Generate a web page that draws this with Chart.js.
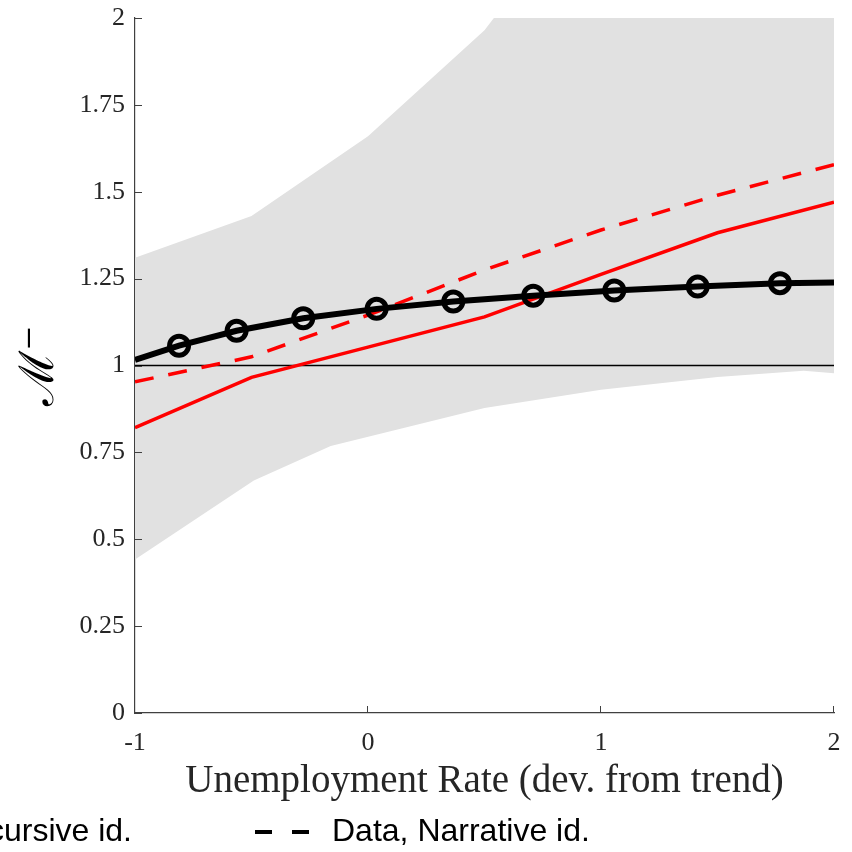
<!DOCTYPE html>
<html lang="en">
<head>
  <meta charset="UTF-8" />
  <title>Multiplier vs unemployment</title>
  <script src="https://cdn.jsdelivr.net/npm/chart.js"></script>
  <style>
    body {
      margin: 0;
      background: #fff;
      overflow: hidden;
    }
    canvas {
      display: block;
    }
  </style>
</head>
<body>
  <canvas id="chart" width="852" height="852"></canvas>

  <script>
    // values
    const bandUpperX = [-1, -0.5, 0, 0.5, 1, 1.5, 2];
    const bandUpperY = [1.31, 1.43, 1.66, 1.965, 2.4, 2.7, 2.9];
    const bandLowerX = [-1, -0.49, -0.16, 0.5, 1, 1.5, 1.87, 2];
    const bandLowerY = [0.442, 0.669, 0.768, 0.878, 0.93, 0.967, 0.985, 0.978];

    const recursiveX = [-1, -0.5, 0, 0.5, 1, 1.5, 2];
    const recursiveY = [0.821, 0.966, 1.053, 1.14, 1.262, 1.382, 1.47];
    const narrativeX = [-1, -0.5, 0, 0.5, 1, 1.5, 2];
    const narrativeY = [0.953, 1.025, 1.145, 1.275, 1.39, 1.49, 1.578];

    const modelX = [-1, -0.811, -0.564, -0.278, 0.037, 0.366, 0.709, 1.057, 1.415, 1.768, 2];
    const modelY = [1.016, 1.057, 1.100, 1.136, 1.163, 1.184, 1.201, 1.216, 1.227, 1.237, 1.239];

    const refX = [-1, 2];
    const refY = [1, 1];

    const xTicks = [-1, 0, 1, 2];
    const xTickLabels = ['-1', '0', '1', '2'];
    const yTicks = [0, 0.25, 0.5, 0.75, 1, 1.25, 1.5, 1.75, 2];
    const yTickLabels = ['0', '0.25', '0.5', '0.75', '1', '1.25', '1.5', '1.75', '2'];

    const xTitle = 'Unemployment Rate (dev. from trend)';
    const yTitle = 'ℳ⁻';
    const legendLabels = ['Data, Recursive id.', 'Data, Narrative id.'];

    const pts = (xs, ys) => xs.map((x, i) => ({ x, y: ys[i] }));
    const serif = "'Liberation Serif', 'DejaVu Serif', serif";
    const axisColor = '#404040';

    // MATLAB-style ticks that point into the plot
    const innerTicks = {
      id: 'innerTicks',
      afterDatasetsDraw(chart) {
        const { ctx, chartArea, scales } = chart;
        ctx.save();
        ctx.strokeStyle = axisColor;
        ctx.lineWidth = 1;
        ctx.beginPath();
        yTicks.forEach(v => {
          const y = Math.round(scales.y.getPixelForValue(v)) + 0.5;
          ctx.moveTo(chartArea.left, y);
          ctx.lineTo(chartArea.left + 7, y);
        });
        xTicks.forEach(v => {
          const x = Math.round(scales.x.getPixelForValue(v)) - 0.5;
          ctx.moveTo(x, chartArea.bottom);
          ctx.lineTo(x, chartArea.bottom - 7);
        });
        ctx.stroke();
        ctx.restore();
      }
    };

    // legend row under the axis title (cut by the left edge as in the figure)
    const bottomLegend = {
      id: 'bottomLegend',
      afterDraw(chart) {
        const ctx = chart.ctx;
        const y = 832;
        ctx.save();
        ctx.font = "32px 'Liberation Sans', Arial, sans-serif";
        ctx.fillStyle = '#000';
        ctx.textBaseline = 'middle';
        ctx.textAlign = 'right';
        ctx.fillText(legendLabels[0], 132, y);
        ctx.strokeStyle = '#000';
        ctx.lineWidth = 4;
        ctx.setLineDash([17, 20]);
        ctx.beginPath();
        ctx.moveTo(255, y);
        ctx.lineTo(309, y);
        ctx.stroke();
        ctx.setLineDash([]);
        ctx.textAlign = 'left';
        ctx.fillText(legendLabels[1], 332, y);
        ctx.restore();
      }
    };

    const ctx = document.getElementById('chart').getContext('2d');
    new Chart(ctx, {
      type: 'line',
      data: {
        datasets: [
          {
            label: 'band upper',
            data: pts(bandUpperX, bandUpperY),
            borderWidth: 0,
            pointRadius: 0,
            backgroundColor: '#e1e1e1',
            fill: '+1',
            order: 10
          },
          {
            label: 'band lower',
            data: pts(bandLowerX, bandLowerY),
            borderWidth: 0,
            pointRadius: 0,
            fill: false,
            order: 11
          },
          {
            label: 'reference',
            data: pts(refX, refY),
            borderColor: '#000',
            borderWidth: 1.6,
            pointRadius: 0,
            order: 5
          },
          {
            label: legendLabels[0],
            data: pts(recursiveX, recursiveY),
            borderColor: '#ff0000',
            borderWidth: 3.5,
            pointRadius: 0,
            order: 3
          },
          {
            label: legendLabels[1],
            data: pts(narrativeX, narrativeY),
            borderColor: '#ff0000',
            borderWidth: 3.5,
            borderDash: [19, 15],
            pointRadius: 0,
            order: 2
          },
          {
            label: 'model',
            data: pts(modelX, modelY),
            borderColor: '#000',
            borderWidth: 6,
            pointStyle: 'circle',
            pointRadius: c => (c.dataIndex === 0 || c.dataIndex === modelX.length - 1) ? 0 : 9.5,
            pointBorderWidth: 5,
            pointBorderColor: '#000',
            pointBackgroundColor: 'rgba(0,0,0,0)',
            order: 1
          }
        ]
      },
      options: {
        responsive: false,
        devicePixelRatio: 1,
        animation: false,
        events: [],
        layout: { padding: { top: 18, right: 18, left: 0, bottom: 0 } },
        plugins: {
          legend: { display: false },
          tooltip: { enabled: false }
        },
        elements: { line: { tension: 0, borderCapStyle: 'butt' } },
        scales: {
          x: {
            type: 'linear',
            min: -1,
            max: 2,
            afterFit: s => {
              s.height = 139;
              s.paddingLeft = 0;
              s.paddingRight = 0;
            },
            afterBuildTicks: s => { s.ticks = xTicks.map(v => ({ value: v })); },
            ticks: {
              callback: (v) => xTickLabels[xTicks.indexOf(v)],
              font: { family: serif, size: 26 },
              color: '#262626',
              padding: 15,
              maxRotation: 0
            },
            grid: { display: true, drawOnChartArea: false, drawTicks: false },
            border: { display: true, color: axisColor, width: 1.2 },
            title: {
              display: true,
              text: xTitle,
              font: { family: serif, size: 39 },
              color: '#262626',
              padding: { top: 0, bottom: 47 }
            }
          },
          y: {
            type: 'linear',
            min: 0,
            max: 2,
            afterFit: s => {
              s.width = 135;
              s.paddingTop = 0;
              s.paddingBottom = 0;
            },
            afterBuildTicks: s => { s.ticks = yTicks.map(v => ({ value: v })); },
            ticks: {
              callback: (v) => yTickLabels[yTicks.indexOf(v)],
              font: { family: serif, size: 26 },
              color: '#262626',
              padding: 10
            },
            grid: { display: true, drawOnChartArea: false, drawTicks: false },
            border: { display: true, color: axisColor, width: 1.2 },
            title: {
              display: true,
              text: yTitle,
              font: { family: serif, size: 48 },
              color: '#000',
              padding: { top: 12, bottom: 0 }
            }
          }
        }
      },
      plugins: [innerTicks, bottomLegend]
    });
  </script>
</body>
</html>
